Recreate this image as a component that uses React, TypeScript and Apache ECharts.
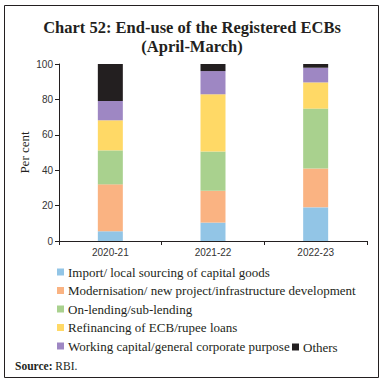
import React, { useEffect, useRef } from "react";
import * as echarts from "echarts";

const categories = ["2020-21", "2021-22", "2022-23"];
const importGoods = [5.5, 10.4, 19.0];
const modernisation = [26.5, 18.0, 22.0];
const onLending = [19.2, 22.1, 33.8];
const refinancing = [17.0, 32.4, 14.8];
const workingCapital = [10.9, 13.1, 8.3];
const others = [20.9, 4.0, 2.1];

const seriesNames = [
  "Import/ local sourcing of capital goods",
  "Modernisation/ new project/infrastructure development",
  "On-lending/sub-lending",
  "Refinancing of ECB/rupee loans",
  "Working capital/general corporate purpose",
  "Others",
];
const seriesData = [importGoods, modernisation, onLending, refinancing, workingCapital, others];
const colors = ["#92c5e6", "#fab382", "#a9d18e", "#ffd966", "#9e87c3", "#231f20"];

export default function App() {
  const ref = useRef<HTMLDivElement>(null);
  useEffect(() => {
    if (!ref.current) return;
    const chart = echarts.init(ref.current, undefined, { renderer: "svg" });
    const serif = "Liberation Serif";
    chart.setOption({
      animation: false,
      backgroundColor: "#ffffff",
      title: {
        text: "Chart 52: End-use of the Registered ECBs\n(April-March)",
        left: "center",
        top: 13,
        textStyle: {
          fontFamily: serif,
          fontWeight: "bold",
          fontSize: 16.5,
          lineHeight: 19,
          color: "#231f20",
        },
      },
      grid: { left: 59, right: 17, top: 64, bottom: 143, containLabel: false },
      xAxis: {
        type: "category",
        data: categories,
        axisLine: { lineStyle: { color: "#231f20", width: 1 } },
        axisTick: { show: true, length: 4, lineStyle: { color: "#231f20" } },
        axisLabel: { fontFamily: "Liberation Sans", fontSize: 10, color: "#333333", margin: 6 },
      },
      yAxis: {
        type: "value",
        min: 0,
        max: 100,
        interval: 20,
        name: "Per cent",
        nameLocation: "middle",
        nameGap: 28,
        nameMoveOverlap: false,
        nameTextStyle: { fontFamily: serif, fontSize: 13, color: "#231f20" },
        axisLine: { show: true, lineStyle: { color: "#231f20", width: 1 } },
        axisTick: { show: true, length: 4, lineStyle: { color: "#231f20" } },
        splitLine: { show: false },
        axisLabel: { fontFamily: "Liberation Sans", fontSize: 10, color: "#333333", margin: 6 },
      },
      legend: [
        {
          orient: "vertical",
          left: 57,
          top: 265,
          itemWidth: 7,
          itemHeight: 7,
          itemGap: 4.5,
          icon: "rect",
          data: seriesNames.slice(0, 5),
          textStyle: { fontFamily: serif, fontSize: 13, lineHeight: 14, color: "#231f20", padding: [0, 0, 0, -1] },
          padding: 0,
        },
        {
          orient: "horizontal",
          left: 292,
          top: 340,
          itemWidth: 7,
          itemHeight: 7,
          icon: "rect",
          data: ["Others"],
          textStyle: { fontFamily: serif, fontSize: 13, lineHeight: 14, color: "#231f20", padding: [0, 0, 0, -1] },
          padding: 0,
        },
      ],
      graphic: [
        {
          type: "rect",
          shape: { x: 4.5, y: 5.5, width: 374, height: 372 },
          style: { fill: "none", stroke: "#231f20", lineWidth: 1 },
          silent: true,
        },
        {
          type: "text",
          left: 15,
          top: 360,
          style: {
            text: "{b|Source:} RBI.",
            rich: {
              b: { fontFamily: serif, fontWeight: "bold", fontSize: 11.5, fill: "#231f20" },
            },
            fontFamily: serif,
            fontSize: 11.5,
            fill: "#231f20",
          },
        },
      ],
      series: seriesNames.map((name, i) => ({
        name,
        type: "bar",
        stack: "total",
        barWidth: 25,
        data: seriesData[i],
        itemStyle: { color: colors[i] },
      })),
    });
    return () => chart.dispose();
  }, []);
  return (
    <div
      ref={ref}
      style={{ position: "fixed", left: 0, top: 0, width: 384, height: 384 }}
    />
  );
}
